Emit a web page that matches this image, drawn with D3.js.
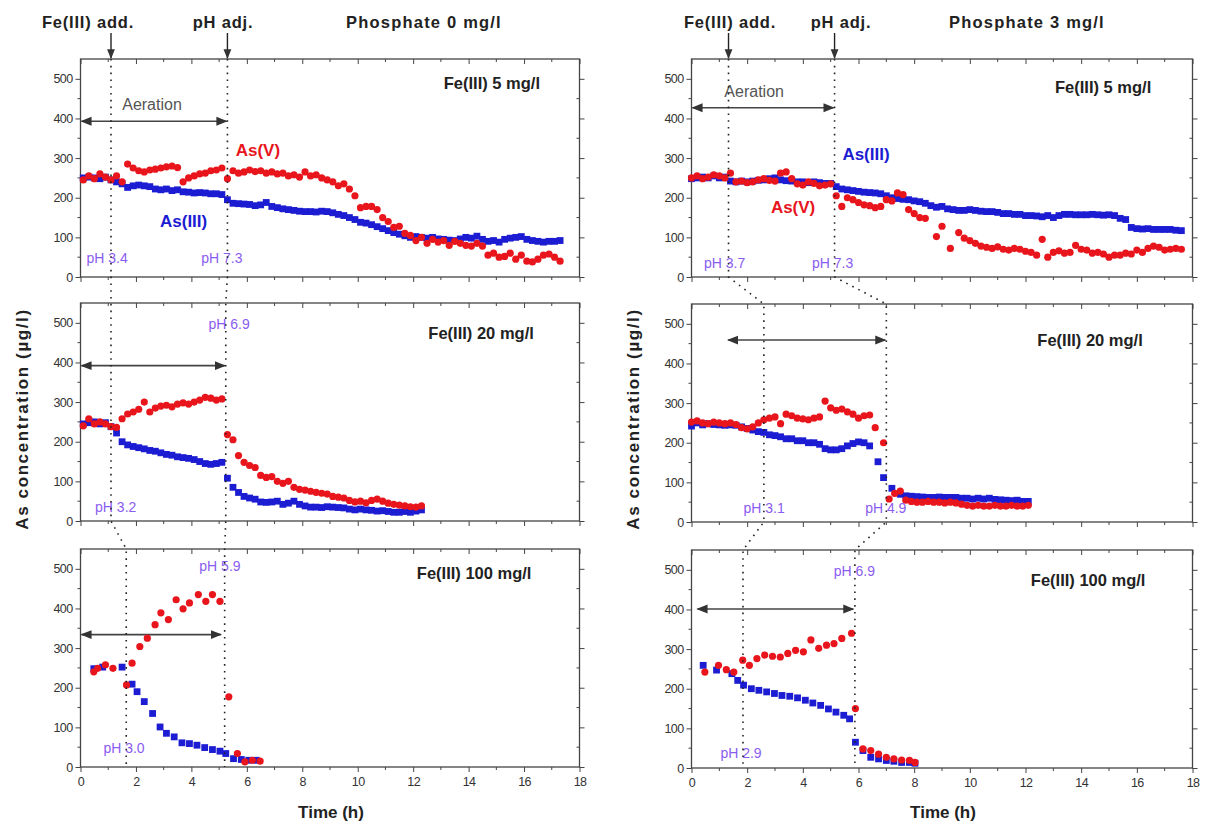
<!DOCTYPE html>
<html>
<head>
<meta charset="utf-8">
<script src="https://cdn.jsdelivr.net/npm/d3@7"></script>
<style>
  body { margin: 0; background: #fff; }
  svg { display: block; }
  text { font-family: "Liberation Sans", Arial, sans-serif; }
</style>
</head>
<body>
<svg id="chart" width="1205" height="824"></svg>
<script>
// ---------- axis ticks ----------
const timeTicks = [0, 2, 4, 6, 8, 10, 12, 14, 16, 18];
const timeMinor = [1, 3, 5, 7, 9, 11, 13, 15, 17];
const concTicks = [0, 100, 200, 300, 400, 500];
const concMinor = [50, 150, 250, 350, 450];

const columnTitles = ["Phosphate 0 mg/l", "Phosphate 3 mg/l"];
const ironDoses = ["Fe(III) 5 mg/l", "Fe(III) 20 mg/l", "Fe(III) 100 mg/l"];

// ---------- measured series: [time (h), concentration (µg/l)] ----------
// Phosphate 0 mg/l, Fe(III) 5 mg/l
const p0fe5_as3 = [[0.1,250],[0.3,252],[0.5,250],[0.7,248],[0.9,252],[1.1,245],[1.3,240],[1.5,235],[1.7,226],[1.9,230],[2.1,232],[2.3,230],[2.5,228],[2.7,222],[2.9,220],[3.1,222],[3.3,218],[3.5,220],[3.7,215],[3.9,214],[4.1,212],[4.3,213],[4.5,212],[4.7,210],[4.9,210],[5.1,208],[5.3,195],[5.5,186],[5.7,185],[5.9,184],[6.1,183],[6.3,180],[6.5,182],[6.7,188],[6.9,178],[7.1,175],[7.3,172],[7.5,170],[7.7,168],[7.9,166],[8.1,165],[8.3,165],[8.5,164],[8.7,166],[8.9,165],[9.1,162],[9.3,158],[9.5,155],[9.7,150],[9.9,145],[10.1,138],[10.3,136],[10.5,132],[10.7,127],[10.9,122],[11.1,117],[11.3,112],[11.5,108],[11.7,104],[11.9,100],[12.1,102],[12.3,100],[12.5,98],[12.7,100],[12.9,96],[13.1,95],[13.3,93],[13.5,92],[13.7,96],[13.9,100],[14.1,98],[14.3,103],[14.5,95],[14.7,90],[14.9,92],[15.1,88],[15.3,95],[15.5,98],[15.7,100],[15.9,102],[16.1,95],[16.3,92],[16.5,90],[16.7,88],[16.9,90],[17.1,90],[17.3,92]];
const p0fe5_as5 = [[0.1,245],[0.3,255],[0.5,248],[0.7,260],[0.9,252],[1.1,245],[1.3,255],[1.5,240],[1.7,285],[1.9,275],[2.1,268],[2.3,265],[2.5,270],[2.7,272],[2.9,275],[3.1,278],[3.3,280],[3.5,276],[3.7,240],[3.9,250],[4.1,255],[4.3,260],[4.5,262],[4.7,268],[4.9,270],[5.1,275],[5.3,248],[5.5,268],[5.7,262],[5.9,265],[6.1,270],[6.3,266],[6.5,268],[6.7,262],[6.9,265],[7.1,260],[7.3,262],[7.5,255],[7.7,258],[7.9,252],[8.1,265],[8.3,255],[8.5,258],[8.7,250],[8.9,245],[9.1,240],[9.3,230],[9.5,235],[9.7,222],[9.9,205],[10.1,175],[10.3,178],[10.5,178],[10.7,170],[10.9,150],[11.1,140],[11.3,125],[11.5,128],[11.7,110],[11.9,105],[12.1,92],[12.3,100],[12.5,85],[12.7,95],[12.9,88],[13.1,92],[13.3,80],[13.5,90],[13.7,85],[13.9,80],[14.1,78],[14.3,85],[14.5,78],[14.7,55],[14.9,60],[15.1,50],[15.3,52],[15.5,60],[15.7,45],[15.9,55],[16.1,40],[16.3,38],[16.5,45],[16.7,55],[16.9,58],[17.1,50],[17.3,40]];

// Phosphate 3 mg/l, Fe(III) 5 mg/l
const p3fe5_as3 = [[0.0,248],[0.2,250],[0.4,252],[0.6,250],[0.8,255],[1.0,250],[1.2,252],[1.4,242],[1.6,240],[1.8,242],[2.0,240],[2.2,242],[2.4,244],[2.6,245],[2.8,248],[3.0,250],[3.2,245],[3.4,243],[3.6,242],[3.8,240],[4.0,240],[4.2,238],[4.4,240],[4.6,238],[4.8,236],[5.0,236],[5.2,228],[5.4,222],[5.6,220],[5.8,218],[6.0,216],[6.2,214],[6.4,213],[6.6,212],[6.8,210],[7.0,205],[7.2,200],[7.4,198],[7.6,196],[7.8,195],[8.0,192],[8.2,190],[8.4,186],[8.6,180],[8.8,176],[9.0,178],[9.2,172],[9.4,170],[9.6,168],[9.8,168],[10.0,170],[10.2,168],[10.4,166],[10.6,165],[10.8,165],[11.0,163],[11.2,160],[11.4,160],[11.6,158],[11.8,158],[12.0,155],[12.2,155],[12.4,154],[12.6,152],[12.8,155],[13.0,150],[13.2,155],[13.4,158],[13.6,158],[13.8,157],[14.0,157],[14.2,157],[14.4,158],[14.6,157],[14.8,156],[15.0,157],[15.2,155],[15.4,148],[15.6,145],[15.8,125],[16.0,122],[16.2,121],[16.4,122],[16.6,120],[16.8,120],[17.0,120],[17.2,120],[17.4,118],[17.6,117]];
const p3fe5_as5 = [[0.0,250],[0.2,255],[0.4,248],[0.6,252],[0.8,258],[1.0,255],[1.2,250],[1.4,262],[1.6,240],[1.8,242],[2.0,238],[2.2,240],[2.4,245],[2.6,248],[2.8,244],[3.0,242],[3.2,262],[3.4,265],[3.6,248],[3.8,235],[4.0,232],[4.2,240],[4.4,236],[4.6,230],[4.8,232],[5.0,235],[5.2,205],[5.4,178],[5.6,200],[5.8,195],[6.0,188],[6.2,182],[6.4,180],[6.6,175],[6.8,178],[7.0,195],[7.2,192],[7.4,212],[7.6,208],[7.8,170],[8.0,160],[8.2,150],[8.4,148],[8.8,102],[9.0,128],[9.3,72],[9.6,112],[9.8,98],[10.0,92],[10.2,85],[10.4,78],[10.6,75],[10.8,72],[11.0,76],[11.2,70],[11.4,68],[11.6,72],[11.8,70],[12.0,65],[12.2,62],[12.4,55],[12.6,95],[12.8,50],[13.0,62],[13.2,66],[13.4,60],[13.6,62],[13.8,80],[14.0,70],[14.2,68],[14.4,60],[14.6,62],[14.8,58],[15.0,50],[15.2,55],[15.4,55],[15.6,60],[15.8,58],[16.0,68],[16.2,62],[16.4,72],[16.6,78],[16.8,75],[17.0,68],[17.2,70],[17.4,72],[17.6,70]];

// Phosphate 0 mg/l, Fe(III) 20 mg/l
const p0fe20_as3 = [[0.1,245],[0.3,248],[0.5,250],[0.7,245],[0.9,248],[1.1,238],[1.3,222],[1.5,200],[1.7,192],[1.9,188],[2.1,185],[2.3,182],[2.5,178],[2.7,176],[2.9,172],[3.1,168],[3.3,166],[3.5,162],[3.7,160],[3.9,158],[4.1,155],[4.3,150],[4.5,145],[4.7,143],[4.9,145],[5.1,148],[5.3,108],[5.5,85],[5.7,72],[5.9,62],[6.1,58],[6.3,55],[6.5,48],[6.7,47],[6.9,48],[7.1,50],[7.3,42],[7.5,45],[7.7,50],[7.9,42],[8.1,38],[8.3,35],[8.5,35],[8.7,34],[8.9,36],[9.1,35],[9.3,34],[9.5,33],[9.7,30],[9.9,28],[10.1,30],[10.3,28],[10.5,27],[10.7,25],[10.9,26],[11.1,24],[11.3,22],[11.5,22],[11.7,24],[11.9,22],[12.1,25],[12.3,28]];
const p0fe20_as5 = [[0.1,240],[0.3,258],[0.5,245],[0.7,250],[0.9,245],[1.1,238],[1.3,236],[1.5,258],[1.7,270],[1.9,275],[2.1,282],[2.3,300],[2.5,275],[2.7,285],[2.9,290],[3.1,292],[3.3,288],[3.5,295],[3.7,298],[3.9,295],[4.1,300],[4.3,305],[4.5,312],[4.7,310],[4.9,305],[5.1,308],[5.3,218],[5.5,205],[5.7,165],[5.9,148],[6.1,140],[6.3,135],[6.5,115],[6.7,110],[6.9,112],[7.1,100],[7.3,95],[7.5,100],[7.7,85],[7.9,80],[8.1,78],[8.3,75],[8.5,72],[8.7,70],[8.9,68],[9.1,62],[9.3,60],[9.5,58],[9.7,52],[9.9,48],[10.1,50],[10.3,46],[10.5,52],[10.7,55],[10.9,50],[11.1,45],[11.3,42],[11.5,40],[11.7,38],[11.9,36],[12.1,35],[12.3,38]];

// Phosphate 3 mg/l, Fe(III) 20 mg/l
const p3fe20_as3 = [[0.0,242],[0.2,250],[0.4,245],[0.6,248],[0.8,246],[1.0,245],[1.2,244],[1.4,245],[1.6,244],[1.8,240],[2.0,236],[2.2,232],[2.4,228],[2.6,226],[2.8,220],[3.0,218],[3.2,215],[3.4,210],[3.6,210],[3.8,205],[4.0,205],[4.2,200],[4.4,200],[4.6,196],[4.8,185],[5.0,182],[5.2,182],[5.4,185],[5.6,192],[5.8,198],[6.0,202],[6.2,200],[6.4,192],[6.7,152],[6.9,112],[7.2,85],[7.5,70],[7.7,66],[7.9,65],[8.1,64],[8.3,63],[8.5,62],[8.7,62],[8.9,63],[9.1,62],[9.3,62],[9.5,62],[9.7,60],[9.9,60],[10.1,58],[10.3,60],[10.5,58],[10.7,60],[10.9,57],[11.1,56],[11.3,55],[11.5,54],[11.7,55],[11.9,52],[12.1,52]];
const p3fe20_as5 = [[0.0,252],[0.2,255],[0.4,250],[0.6,248],[0.8,252],[1.0,250],[1.2,248],[1.4,250],[1.6,246],[1.8,238],[2.0,235],[2.2,240],[2.4,250],[2.6,258],[2.8,262],[3.0,265],[3.2,248],[3.4,272],[3.6,268],[3.8,262],[4.0,260],[4.2,258],[4.4,262],[4.6,265],[4.8,305],[5.0,288],[5.2,282],[5.4,285],[5.6,278],[5.8,272],[6.0,262],[6.2,268],[6.4,270],[6.6,238],[6.9,200],[7.1,58],[7.3,72],[7.5,78],[7.7,55],[7.9,52],[8.1,50],[8.3,50],[8.5,52],[8.7,50],[8.9,50],[9.1,48],[9.3,50],[9.5,48],[9.7,45],[9.9,42],[10.1,40],[10.3,42],[10.5,40],[10.7,40],[10.9,42],[11.1,40],[11.3,40],[11.5,42],[11.7,40],[11.9,40],[12.1,42]];

// Phosphate 0 mg/l, Fe(III) 100 mg/l
const p0fe100_as3 = [[0.48,248],[0.8,252],[1.5,252],[1.86,209],[2.04,190],[2.3,165],[2.6,135],[2.87,101],[3.1,85],[3.38,76],[3.66,61],[3.93,59],[4.2,55],[4.48,49],[4.76,44],[5.03,40],[5.24,34],[5.52,21],[5.8,19],[6.07,17],[6.34,17]];
const p0fe100_as5 = [[0.48,240],[0.62,249],[0.9,258],[1.17,249],[1.66,207],[1.86,262],[2.14,304],[2.41,325],[2.69,359],[2.9,389],[3.17,372],[3.45,422],[3.7,399],[3.93,414],[4.25,435],[4.52,418],[4.76,435],[5.03,418],[5.35,177],[5.66,34],[5.93,13],[6.2,17],[6.48,15]];

// Phosphate 3 mg/l, Fe(III) 100 mg/l
const p3fe100_as3 = [[0.42,259],[0.9,247],[1.45,238],[1.66,221],[1.87,209],[2.15,200],[2.42,196],[2.7,192],[2.98,188],[3.25,183],[3.53,181],[3.81,177],[4.09,171],[4.36,164],[4.64,158],[4.92,149],[5.19,141],[5.47,133],[5.68,124],[5.89,65],[6.16,44],[6.44,27],[6.72,23],[7.0,19],[7.27,17],[7.55,14],[7.83,14],[8.03,12]];
const p3fe100_as5 = [[0.48,242],[0.97,259],[1.25,248],[1.52,242],[1.84,272],[2.08,259],[2.35,276],[2.63,285],[2.91,282],[3.19,280],[3.46,289],[3.74,297],[4.02,293],[4.29,323],[4.57,302],[4.85,310],[5.12,314],[5.4,327],[5.75,340],[5.89,150],[6.16,48],[6.44,44],[6.72,35],[7.0,27],[7.27,23],[7.55,20],[7.83,19],[8.03,14]];

// ---------- event times (h): Fe(III) addition and pH adjustment, per row ----------
const feAddTimes = [[1.1, 1.1, 1.65], [1.33, 2.6, 1.85]];
const phAdjTimes = [[5.3, 5.24, 5.2], [5.14, 7.0, 5.87]];

// pH readings at Fe addition and at pH adjustment
const phAtFe = [["pH 3.4", "pH 3.2", "pH 3.0"], ["pH 3.7", "pH 3.1", "pH 2.9"]];
const phAtAdj = [["pH 7.3", "pH 6.9", "pH 5.9"], ["pH 7.3", "pH 4.9", "pH 6.9"]];

// ---------- layout ----------
const colLayout = [
  { x0: 80.5, x1: 579.5, tops: [59, 303, 549] },
  { x0: 691.5, x1: 1192.5, tops: [59, 304, 550] }
];
const panelH = 218;
const RED = "#e8161c", BLUE = "#1c1cd2", PURPLE = "#8a5cf0", INK = "#222";

// label placement in data units (t, value) for each panel [col][row]
const place = [
  [
    { fe: [14.84, 474], phFe: [0.96, 35], phAdj: [5.1, 35], aer: [0, 5.3, 393], aerText: [2.58, 421], as5: [6.4, 305], as3: [3.72, 126] },
    { fe: [14.45, 459], phFe: [1.27, 23], phAdj: [5.36, 484], aer: [0, 5.24, 392] },
    { fe: [14.2, 474], phFe: [1.57, 35], phAdj: [5.03, 494], aer: [0, 5.1, 334] }
  ],
  [
    { fe: [14.79, 464], phFe: [1.19, 23], phAdj: [5.07, 23], aer: [0, 5.14, 427], aerText: [2.25, 454], as5: [3.65, 161], as3: [6.27, 295] },
    { fe: [14.32, 444], phFe: [2.61, 23], phAdj: [6.98, 23], aer: [1.28, 7.0, 459] },
    { fe: [14.25, 459], phFe: [1.78, 25], phAdj: [5.85, 484], aer: [0.18, 5.85, 401] }
  ]
];

const seriesGrid = [
  [[p0fe5_as3, p0fe5_as5], [p0fe20_as3, p0fe20_as5], [p0fe100_as3, p0fe100_as5]],
  [[p3fe5_as3, p3fe5_as5], [p3fe20_as3, p3fe20_as5], [p3fe100_as3, p3fe100_as5]]
];

const svg = d3.select("#chart");

// arrowheads
const defs = svg.append("defs");
defs.append("marker").attr("id", "head").attr("viewBox", "0 0 10 10")
  .attr("refX", 9).attr("refY", 5).attr("markerWidth", 7).attr("markerHeight", 7)
  .attr("orient", "auto-start-reverse")
  .append("path").attr("d", "M0,1 L10,5 L0,9 z").attr("fill", "#333");

colLayout.forEach((col, ci) => {
  const x = d3.scaleLinear().domain([0, 18]).range([col.x0, col.x1]);
  const ys = col.tops.map(top => d3.scaleLinear().domain([0, 550]).range([top + panelH, top]));

  col.tops.forEach((top, ri) => {
    const y = ys[ri];
    const g = svg.append("g");
    const bottom = top + panelH;

    // minor ticks
    const minor = g.append("g").attr("stroke", "#444").attr("stroke-width", 1);
    concMinor.forEach(v => {
      minor.append("line").attr("x1", col.x0 - 3).attr("x2", col.x0).attr("y1", y(v)).attr("y2", y(v));
      minor.append("line").attr("x1", col.x1).attr("x2", col.x1 - 3).attr("y1", y(v)).attr("y2", y(v));
    });
    timeMinor.forEach(t => {
      minor.append("line").attr("x1", x(t)).attr("x2", x(t)).attr("y1", bottom).attr("y2", bottom + 3);
      minor.append("line").attr("x1", x(t)).attr("x2", x(t)).attr("y1", top).attr("y2", top + 3);
    });

    // left axis with labels
    g.append("g").attr("transform", `translate(${col.x0},0)`)
      .call(d3.axisLeft(y).tickValues(concTicks).tickSize(5).tickSizeOuter(0).tickPadding(3));
    // right mirror axis
    g.append("g").attr("transform", `translate(${col.x1},0)`)
      .call(d3.axisLeft(y).tickValues(concTicks).tickSize(-5).tickSizeOuter(0).tickFormat(""));
    // bottom axis
    g.append("g").attr("transform", `translate(0,${bottom})`)
      .call(d3.axisBottom(x).tickValues(timeTicks).tickSize(5).tickSizeOuter(0).tickPadding(5)
        .tickFormat(ri === 2 ? d3.format("d") : ""));
    // top mirror axis
    g.append("g").attr("transform", `translate(0,${top})`)
      .call(d3.axisBottom(x).tickValues(timeTicks).tickSize(5).tickSizeOuter(0).tickFormat(""));

    g.selectAll(".domain").remove();
    g.selectAll(".tick line").attr("stroke", "#444");
    g.selectAll(".tick text").attr("fill", "#333").attr("font-size", 12.5)
      .attr("letter-spacing", -0.6).attr("font-family", "'Liberation Sans', Arial, sans-serif");

    g.append("rect").attr("x", col.x0).attr("y", top)
      .attr("width", col.x1 - col.x0).attr("height", panelH)
      .attr("fill", "none").attr("stroke", "#444").attr("stroke-width", 1.3);

    const P = place[ci][ri];

    // aeration period
    g.append("line")
      .attr("x1", x(P.aer[0]) + 1).attr("x2", x(P.aer[1]) - 1)
      .attr("y1", y(P.aer[2])).attr("y2", y(P.aer[2]))
      .attr("stroke", "#444").attr("stroke-width", 1.6)
      .attr("marker-start", "url(#head)").attr("marker-end", "url(#head)");
    if (P.aerText) {
      g.append("text").attr("x", x(P.aerText[0])).attr("y", y(P.aerText[1]))
        .attr("text-anchor", "middle").attr("font-size", 16).attr("fill", "#555")
        .text("Aeration");
    }

    // data points
    const [as3, as5] = seriesGrid[ci][ri];
    g.append("g").selectAll("rect").data(as3).join("rect")
      .attr("x", d => x(d[0]) - 3.4).attr("y", d => y(d[1]) - 3.4)
      .attr("width", 6.8).attr("height", 6.8).attr("fill", BLUE);
    g.append("g").selectAll("circle").data(as5).join("circle")
      .attr("cx", d => x(d[0])).attr("cy", d => y(d[1])).attr("r", 3.6).attr("fill", RED);

    // dose label
    g.append("text").attr("x", x(P.fe[0])).attr("y", y(P.fe[1]))
      .attr("text-anchor", "middle").attr("font-size", 16.5).attr("font-weight", "bold")
      .attr("fill", INK).text(ironDoses[ri]);

    // pH readings
    [[P.phFe, phAtFe[ci][ri]], [P.phAdj, phAtAdj[ci][ri]]].forEach(([pos, label]) => {
      g.append("text").attr("x", x(pos[0])).attr("y", y(pos[1]))
        .attr("text-anchor", "middle").attr("font-size", 14).attr("fill", PURPLE)
        .text(label);
    });

    // species labels
    if (P.as5) {
      g.append("text").attr("x", x(P.as5[0])).attr("y", y(P.as5[1]))
        .attr("text-anchor", "middle").attr("font-size", 17).attr("font-weight", "bold")
        .attr("fill", RED).text("As(V)");
      g.append("text").attr("x", x(P.as3[0])).attr("y", y(P.as3[1]))
        .attr("text-anchor", "middle").attr("font-size", 17).attr("font-weight", "bold")
        .attr("fill", BLUE).text("As(III)");
    }
  });

  // event markers running through all three panels
  [feAddTimes[ci], phAdjTimes[ci]].forEach(times => {
    const pts = [];
    times.forEach((t, ri) => {
      pts.push([x(t), col.tops[ri]]);
      pts.push([x(t), col.tops[ri] + panelH]);
    });
    svg.append("path").attr("d", d3.line()(pts))
      .attr("fill", "none").attr("stroke", "#222").attr("stroke-width", 1.6)
      .attr("stroke-dasharray", "1.6,5.2");
    // header arrow into the top panel
    svg.append("line").attr("x1", x(times[0])).attr("x2", x(times[0]))
      .attr("y1", 33).attr("y2", col.tops[0] - 1)
      .attr("stroke", "#222").attr("stroke-width", 1.4).attr("marker-end", "url(#head)");
  });

  // header labels
  const head = svg.append("g").attr("font-weight", "bold").attr("fill", INK).attr("font-size", 16.5);
  head.append("text").attr("x", ci === 0 ? 88 : 730).attr("y", 28).attr("text-anchor", "middle")
    .attr("letter-spacing", 0.8).text("Fe(III) add.");
  head.append("text").attr("x", ci === 0 ? 223 : 841).attr("y", 28).attr("text-anchor", "middle")
    .attr("letter-spacing", 0.8).text("pH adj.");
  head.append("text").attr("x", ci === 0 ? 424 : 1027).attr("y", 28).attr("text-anchor", "middle")
    .attr("letter-spacing", 1.2).text(columnTitles[ci]);

  // axis titles
  svg.append("text").attr("transform", `translate(${col.x0 - 53},${419}) rotate(-90)`)
    .attr("text-anchor", "middle").attr("font-size", 17).attr("font-weight", "bold")
    .attr("letter-spacing", 1.6).attr("fill", INK).text("As concentration (µg/l)");
  svg.append("text").attr("x", (col.x0 + col.x1) / 2 + 1).attr("y", 818)
    .attr("text-anchor", "middle").attr("font-size", 17).attr("font-weight", "bold")
    .attr("fill", INK).text("Time (h)");
});
</script>
</body>
</html>
